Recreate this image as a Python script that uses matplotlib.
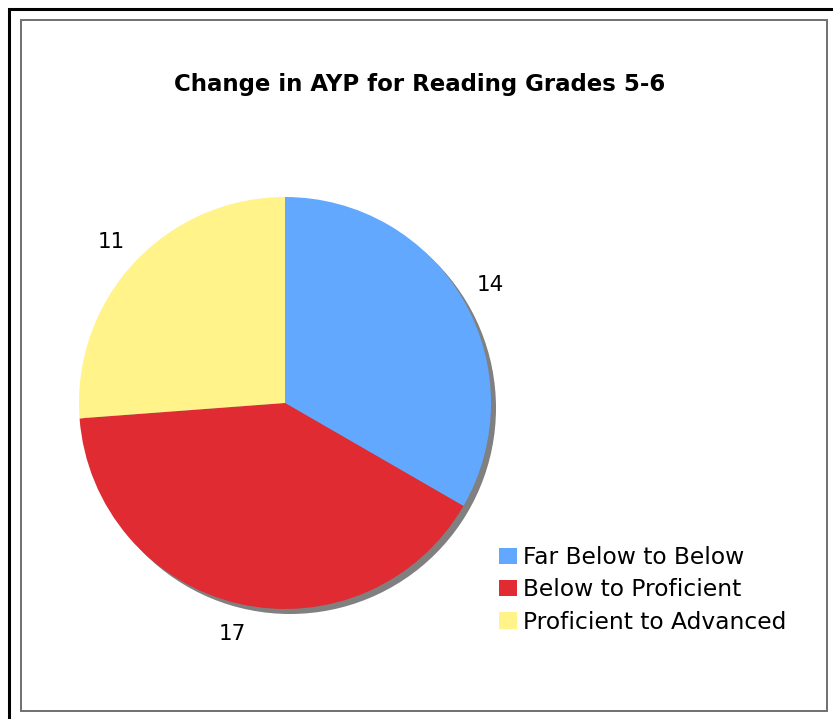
import numpy as np
import matplotlib
matplotlib.use("Agg")
import matplotlib.pyplot as plt
from matplotlib.patches import Rectangle, Circle, Patch

categories = ["Far Below to Below", "Below to Proficient", "Proficient to Advanced"]
values = [14, 17, 11]
colors = ["#62A8FF", "#E02B33", "#FFF38A"]
title = "Change in AYP for Reading Grades 5-6"

W, H = 833, 719
fig = plt.figure(figsize=(W / 100, H / 100), dpi=100)
fig.patch.set_facecolor("white")

# frames
fig.add_artist(Rectangle((9 / W, -0.05), 1.2, (H - 9) / H + 0.05, transform=fig.transFigure,
                         fill=False, edgecolor="black", linewidth=2.2))
fig.add_artist(Rectangle((21 / W, (H - 711) / H), (827 - 21) / W, (711 - 20) / H,
                         transform=fig.transFigure, fill=False, edgecolor="#707070", linewidth=1.4))

ax = fig.add_axes([0, 0, 1, 1])
cx, cy, R = 285, H - 403, 206
ax.add_patch(Circle((cx + 5, cy - 5), R, facecolor="#808080", edgecolor="none", zorder=1))
wedges, _ = ax.pie(values, colors=colors, startangle=90, counterclock=False,
                   center=(cx, cy), radius=R, frame=True,
                   wedgeprops=dict(linewidth=0))
for w in wedges:
    w.set_zorder(2)
ax.set_xlim(0, W)
ax.set_ylim(0, H)
ax.set_aspect("equal")
ax.axis("off")

for w, v in zip(wedges, values):
    th = np.deg2rad((w.theta1 + w.theta2) / 2)
    ax.text(cx + 1.15 * R * np.cos(th), cy + 1.15 * R * np.sin(th), str(v),
            ha="center", va="center", fontsize=15.5, family="DejaVu Sans", color="black")

fig.text(420 / W, 1 - 85 / H, title, ha="center", va="center", fontsize=16.5,
         fontweight="bold", family="DejaVu Sans")

handles = [Patch(facecolor=c, edgecolor="none") for c in colors]
leg = fig.legend(handles, categories, loc="upper left", bbox_to_anchor=(499 / W, 1 - 546 / H),
                 frameon=False, handlelength=0.76, handleheight=0.72,
                 handletextpad=0.28, labelspacing=0.4, borderpad=0, borderaxespad=0,
                 prop=dict(family="DejaVu Sans", size=16.8))

fig.savefig("out.png", dpi=100, facecolor="white")
